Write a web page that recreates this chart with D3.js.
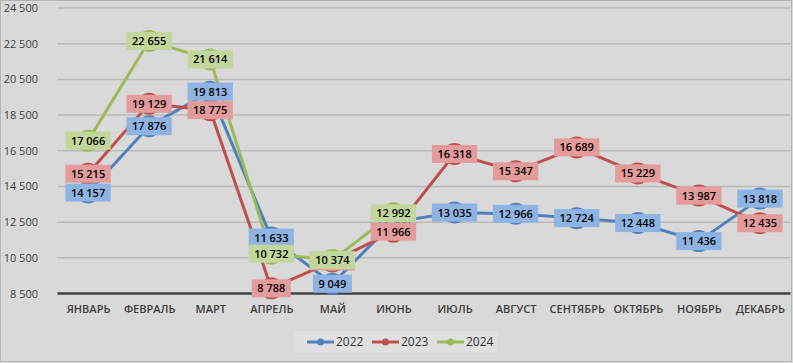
<!DOCTYPE html>
<html>
<head>
<meta charset="utf-8">
<script src="https://cdn.jsdelivr.net/npm/d3@7"></script>
<style>
	body { margin: 0; background: #d9d9d9; }
	text { font-family: "Open Sans", "Noto Sans", sans-serif; }
</style>
</head>
<body>
<svg id="chart"></svg>
<script>
	// months and yearly values (2024 only up to June)
	var months = ["ЯНВАРЬ", "ФЕВРАЛЬ", "МАРТ", "АПРЕЛЬ", "МАЙ", "ИЮНЬ", "ИЮЛЬ", "АВГУСТ", "СЕНТЯБРЬ", "ОКТЯБРЬ", "НОЯБРЬ", "ДЕКАБРЬ"];
	var years = ["2022", "2023", "2024"];
	var v2022 = [14157, 17876, 19813, 11633, 9049, 12500, 13035, 12966, 12724, 12448, 11436, 13818];
	var v2023 = [15215, 19129, 18775, 8788, 10300, 11966, 16318, 15347, 16689, 15229, 13987, 12435];
	var v2024 = [17066, 22655, 21614, 10732, 10374, 12992, null, null, null, null, null, null];
	var yTicks = [8500, 10500, 12500, 14500, 16500, 18500, 20500, 22500, 24500];

	var lineColors = ["#4f81bd", "#c0504d", "#9bbb59"];
	var boxColors = ["#8eb4e3", "#e39c9b", "#c3d69b"];

	var W = 793, H = 363;
	var plotL = 57.5, plotR = 790.5, plotT = 8, plotB = 293.5;

	var series = [v2022, v2023, v2024].map(function(vals, k) {
		return {name: years[k], k: k, values: vals.map(function(v, i) { return {m: months[i], v: v}; })};
	});

	var svg = d3.select("#chart").attr("width", W).attr("height", H);

	svg.append("rect")
		.attr("x", 0.5).attr("y", 0.5)
		.attr("width", W - 2).attr("height", H - 2)
		.attr("fill", "#d9d9d9")
		.attr("stroke", "#b4b4b4");

	var x = d3.scalePoint().domain(months).range([plotL, plotR]).padding(0.5);
	var y = d3.scaleLinear().domain([8500, 24500]).range([plotB, plotT]);

	// gridlines
	svg.append("g").selectAll("line")
		.data(yTicks.slice(1))
		.enter().append("line")
		.attr("x1", plotL).attr("x2", plotR)
		.attr("y1", function(d) { return y(d); })
		.attr("y2", function(d) { return y(d); })
		.attr("stroke", "#bababa")
		.attr("stroke-width", 1.5);

	// y labels
	var yAxis = svg.append("g")
		.attr("transform", "translate(38,0)")
		.call(d3.axisLeft(y).tickValues(yTicks).tickSize(0).tickPadding(0)
			.tickFormat(function(d) { return d3.format(",")(d).replace(",", " "); }));
	yAxis.select(".domain").remove();
	yAxis.selectAll("text")
		.attr("fill", "#404040")
		.style("font-size", "11px")
		.style("font-family", "'Open Sans', sans-serif");

	// x axis
	var xAxis = svg.append("g")
		.attr("transform", "translate(0," + plotB + ")")
		.call(d3.axisBottom(x).tickSize(0).tickPadding(12));
	xAxis.select(".domain")
		.attr("d", "M" + plotL + ",0H" + plotR)
		.attr("stroke", "#404040")
		.attr("stroke-width", 2.5);
	xAxis.selectAll("text")
		.attr("fill", "#404040")
		.style("font-size", "11px")
		.style("font-weight", "600")
		.style("font-family", "'Open Sans', sans-serif");

	var line = d3.line()
		.defined(function(d) { return d.v !== null; })
		.x(function(d) { return x(d.m); })
		.y(function(d) { return y(d.v); });

	var plot = svg.append("g");

	series.forEach(function(s) {
		plot.append("path")
			.datum(s.values)
			.attr("d", line)
			.attr("fill", "none")
			.attr("stroke", lineColors[s.k])
			.attr("stroke-width", 3)
			.attr("stroke-linejoin", "round");
		plot.selectAll(".dot" + s.k)
			.data(s.values.filter(function(d) { return d.v !== null; }))
			.enter().append("circle")
			.attr("cx", function(d) { return x(d.m); })
			.attr("cy", function(d) { return y(d.v); })
			.attr("r", 11)
			.attr("fill", lineColors[s.k]);
	});

	// data labels, later years on top
	series.forEach(function(s) {
		var lab = svg.append("g").selectAll("g")
			.data(s.values.filter(function(d) { return d.v !== null; }))
			.enter().append("g")
			.attr("transform", function(d) { return "translate(" + x(d.m) + "," + y(d.v) + ")"; });
		lab.append("rect")
			.attr("fill", boxColors[s.k]);
		lab.append("text")
			.attr("text-anchor", "middle")
			.attr("dy", "0.36em")
			.attr("fill", "#000")
			.style("font-size", "11px")
			.style("font-weight", "600")
			.text(function(d) { return d3.format(",")(d.v).replace(",", " "); });
		lab.each(function() {
			var g = d3.select(this);
			var w = g.select("text").node().getComputedTextLength() + 11;
			g.select("rect")
				.attr("x", -w / 2).attr("y", -9)
				.attr("width", w).attr("height", 18);
		});
	});

	// legend
	var legend = svg.append("g");
	legend.append("rect")
		.attr("x", 295).attr("y", 331)
		.attr("width", 203).attr("height", 22)
		.attr("fill", "#e0e0e0");
	var item = legend.selectAll(".item")
		.data(years)
		.enter().append("g")
		.attr("transform", function(d, i) { return "translate(" + (307 + i * 65) + ",342)"; });
	item.append("line")
		.attr("x1", 0).attr("x2", 27)
		.attr("stroke", function(d, i) { return lineColors[i]; })
		.attr("stroke-width", 3);
	item.append("circle")
		.attr("cx", 13.5).attr("r", 3.5)
		.attr("fill", function(d, i) { return lineColors[i]; });
	item.append("text")
		.attr("x", 29)
		.attr("dy", "0.36em")
		.attr("fill", "#333")
		.style("font-size", "12px")
		.text(function(d) { return d; });
</script>
</body>
</html>
